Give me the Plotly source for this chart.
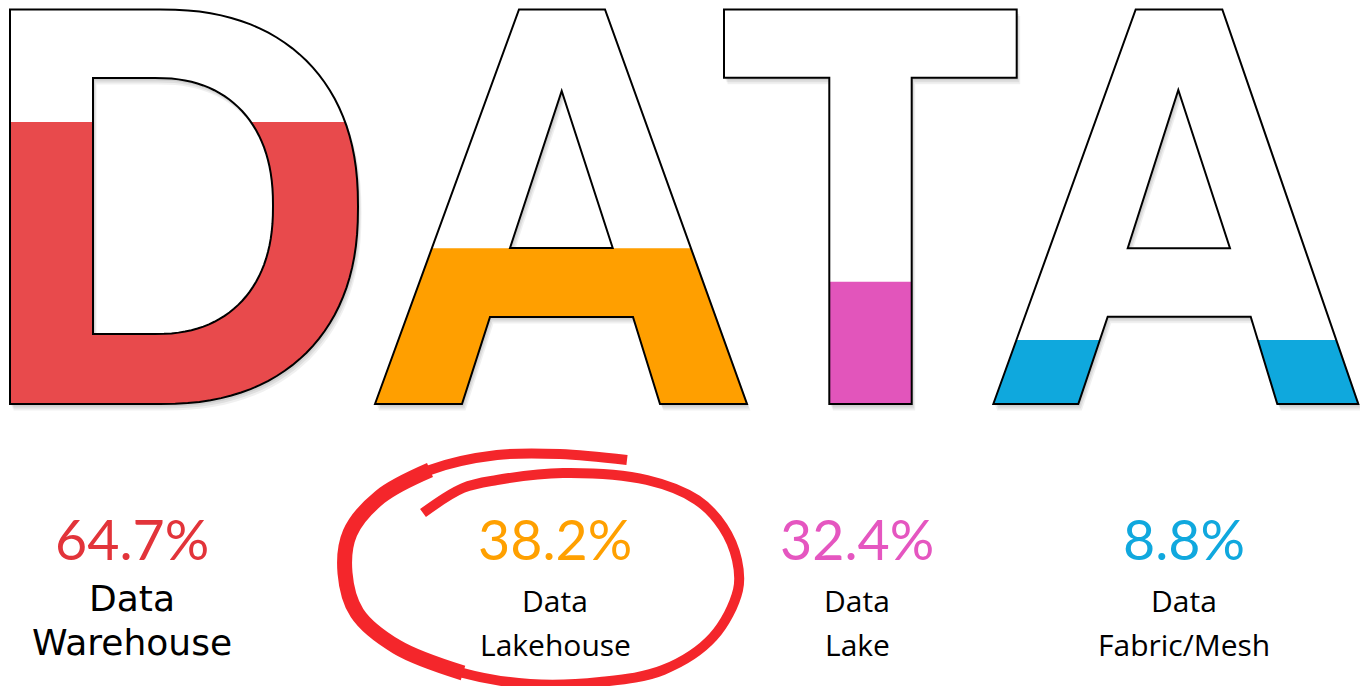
import math
import plotly.graph_objects as go

# ---------------- data ----------------
categories = ["Data Warehouse", "Data Lakehouse", "Data Lake", "Data Fabric/Mesh"]
percent = [64.7, 38.2, 32.4, 8.8]
# fill height of each letter, as a share of the letter height
fill_level = [0.715, 0.395, 0.31, 0.162]
letters = ["D", "A", "T", "A"]
fill_colors = ["#E84A4C", "#FF9F00", "#E255BB", "#0FA8DD"]
text_colors = ["#E2343A", "#FFA000", "#E556C0", "#10A8DE"]

# ---------------- layout constants ----------------
W, H = 1360, 686
BASE = 404.0     # letter bottom (px from top)
CAP = 394.5      # letter height (px)


def Y(ys):
    """screen px (from top) -> data units (letter bottom = 0, letter top = 1)"""
    return (BASE - ys) / CAP


def superarc(cx, cy, rx, ry, n=2.3, steps=60):
    pts = []
    for i in range(steps + 1):
        t = -math.pi / 2 + math.pi * i / steps
        c, s = math.cos(t), math.sin(t)
        x = cx + rx * (abs(c) ** (2 / n)) * (1 if c >= 0 else -1)
        y = cy + ry * (abs(s) ** (2 / n)) * (1 if s >= 0 else -1)
        pts.append((x, y))
    return pts


# letter outlines (screen px); each letter = list of rings
D_outer = [(10, 404), (10, 9.5)] + superarc(160, 206.75, 198, 197.25)
D_inner = [(93, 334), (93, 78)] + superarc(155, 206, 118, 128)
A1_outer = [(375, 404), (519, 9.5), (605, 9.5), (747, 404), (660, 404), (633, 317), (490, 317), (462, 404)]
A1_inner = [(510, 248), (561.7, 91), (612.7, 248)]
T_outer = [(724, 9.5), (1016.7, 9.5), (1016.7, 77.7), (911.7, 77.7), (911.7, 404),
           (829.3, 404), (829.3, 77.7), (724, 77.7)]
A2_outer = [(993.3, 404), (1135.7, 9.5), (1222.3, 9.5), (1358.3, 404), (1277.3, 404),
            (1250.7, 316.7), (1107.7, 316.7), (1078.3, 404)]
A2_inner = [(1127.7, 248.3), (1178.3, 90), (1230, 248.3)]
glyphs = [[D_outer, D_inner], [A1_outer, A1_inner], [T_outer], [A2_outer, A2_inner]]


def clip_below(ring, level):
    out = []
    n = len(ring)
    for i in range(n):
        cur, prev = ring[i], ring[i - 1]
        cin, pin = cur[1] >= level, prev[1] >= level

        def inter():
            t = (level - prev[1]) / (cur[1] - prev[1])
            return (prev[0] + t * (cur[0] - prev[0]), level)
        if cin:
            if not pin:
                out.append(inter())
            out.append(cur)
        elif pin:
            out.append(inter())
    return out if len(out) >= 3 else []


def path_of(rings, dx=0.0, dy=0.0):
    parts = []
    for r in rings:
        if not r:
            continue
        parts.append("M" + " L".join(f"{x + dx:.2f},{Y(y + dy):.5f}" for x, y in r) + " Z")
    return " ".join(parts)


shapes = []
# soft drop shadow
for off, a in [((1.5, 2.5), 0.07), ((2.5, 4.5), 0.07), ((3.5, 6.5), 0.06)]:
    for g in glyphs:
        shapes.append(dict(type="path", path=path_of(g, *off), xref="x", yref="y",
                           fillcolor=f"rgba(0,0,0,{a})", line=dict(width=0),
                           fillrule="evenodd", layer="below"))
# white letter bodies
for g in glyphs:
    shapes.append(dict(type="path", path=path_of(g), xref="x", yref="y",
                       fillcolor="white", line=dict(width=0), fillrule="evenodd", layer="below"))
# colour fills, driven by fill_level through the y axis
for g, lvl, col in zip(glyphs, fill_level, fill_colors):
    level_px = BASE - lvl * CAP
    clipped = [clip_below(r, level_px) for r in g]
    shapes.append(dict(type="path", path=path_of(clipped), xref="x", yref="y",
                       fillcolor=col, line=dict(width=0), fillrule="evenodd", layer="below"))
# outlines
for g in glyphs:
    shapes.append(dict(type="path", path=path_of(g), xref="x", yref="y",
                       fillcolor="rgba(0,0,0,0)", line=dict(color="black", width=2),
                       fillrule="evenodd", layer="below"))

fig = go.Figure()

# hand-drawn red circle around the highlighted category
circle_px = [(627, 460), (560, 454), (497, 455), (430, 470), (380, 497), (350, 533), (345, 573),
             (357, 613), (397, 647), (463, 673), (530, 684), (600, 682), (663, 670), (713, 637),
             (738, 590), (737, 560), (723, 527), (697, 500), (647, 480), (563, 473), (497, 480),
             (463, 488), (423, 513)]
fig.add_trace(go.Scatter(x=[p[0] for p in circle_px], y=[Y(p[1]) for p in circle_px],
                         mode="lines", line=dict(color="#F4262B", width=10, shape="spline", smoothing=1.0),
                         hoverinfo="skip"))
left_px = circle_px[3:10]
fig.add_trace(go.Scatter(x=[p[0] for p in left_px], y=[Y(p[1]) for p in left_px],
                         mode="lines", line=dict(color="#F4262B", width=15, shape="spline", smoothing=1.0),
                         hoverinfo="skip"))

# labels
label_x = [132, 555, 857, 1184]
pct_y = 538
line1_y = [598, 600, 600, 600]
line2_y = [642, 644, 644, 644]
annotations = []
for i, (cat, p) in enumerate(zip(categories, percent)):
    first, second = cat.split(" ", 1)
    annotations.append(dict(x=label_x[i], y=Y(pct_y), text=f"{p:.1f}%", showarrow=False,
                            xanchor="center", yanchor="middle",
                            font=dict(family="Lato", size=55.5, color=text_colors[i])))
    if i == 0:
        fnt = dict(family="DejaVu Sans", size=36, color="black")
    else:
        fnt = dict(family="Open Sans", size=30, color="black")
    annotations.append(dict(x=label_x[i], y=Y(line1_y[i]), text=first, showarrow=False,
                            xanchor="center", yanchor="middle", font=fnt))
    annotations.append(dict(x=label_x[i], y=Y(line2_y[i]), text=second, showarrow=False,
                            xanchor="center", yanchor="middle", font=fnt))

fig.update_layout(
    width=W, height=H, margin=dict(l=0, r=0, t=0, b=0),
    paper_bgcolor="white", plot_bgcolor="white", showlegend=False,
    xaxis=dict(range=[0, W], visible=False, fixedrange=True),
    yaxis=dict(range=[Y(H), Y(0)], visible=False, fixedrange=True),
    shapes=shapes, annotations=annotations,
)
fig.write_html("out.html", config={"displayModeBar": False},
               post_script="document.body.style.margin='0';document.body.style.overflow='hidden';")
